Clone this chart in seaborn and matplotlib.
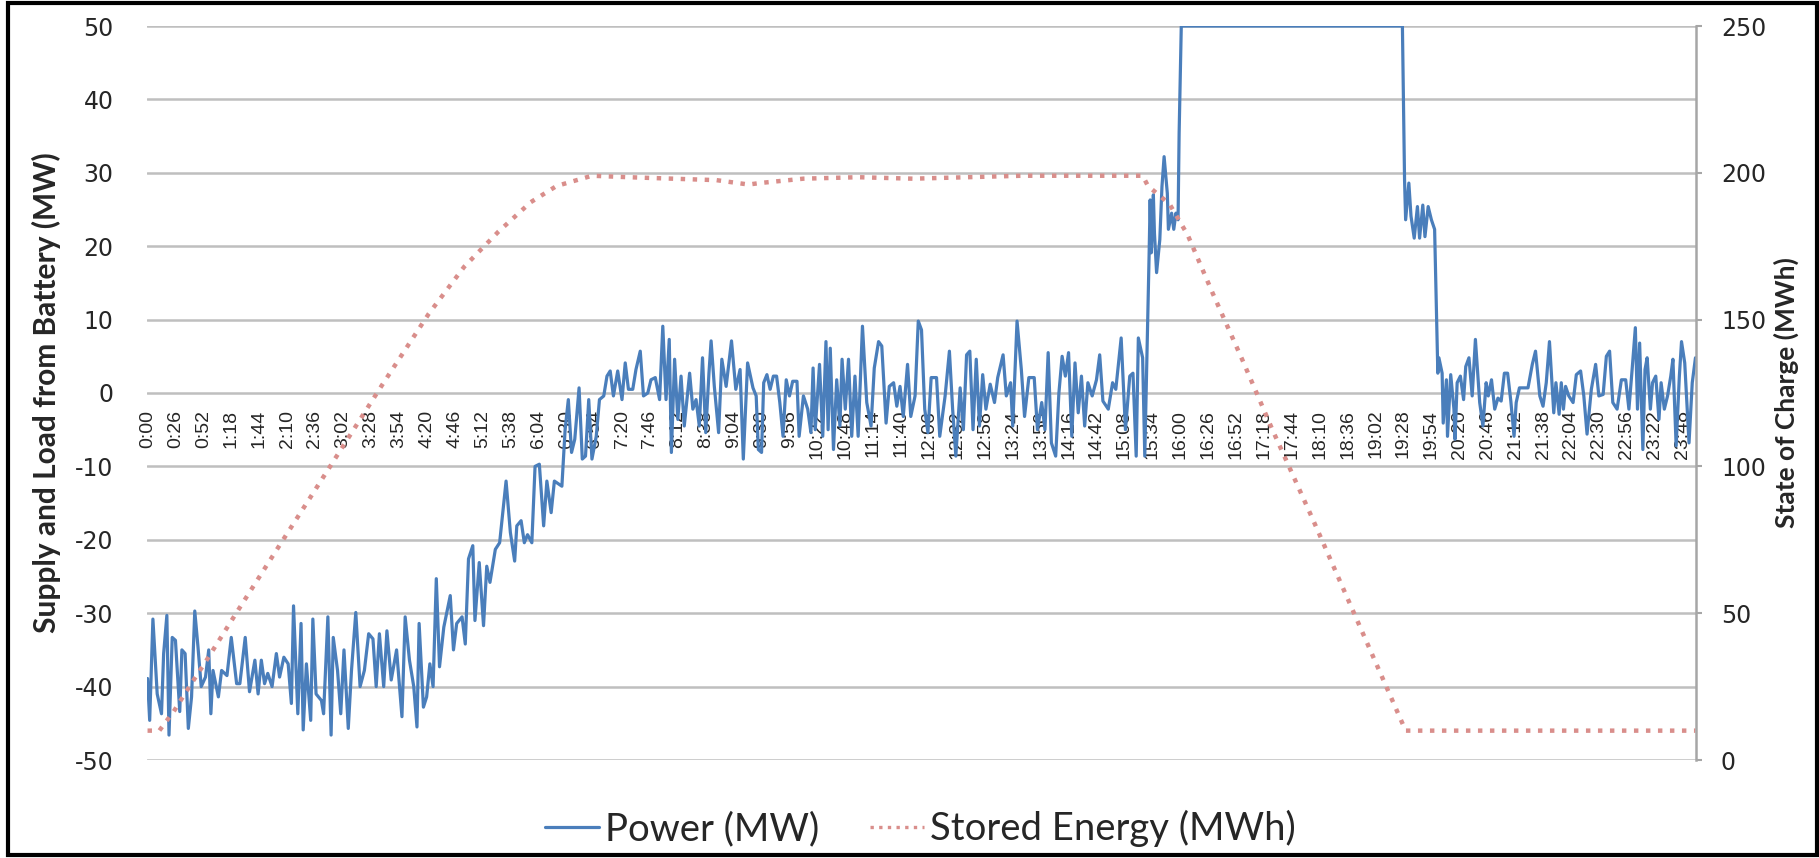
import numpy as np
import pandas as pd
import seaborn as sns
import matplotlib.pyplot as plt
from matplotlib.patches import Rectangle
from matplotlib.lines import Line2D

# category labels on the time axis (one label every 26 samples)
time_labels = ["0:00", "0:26", "0:52", "1:18", "1:44", "2:10", "2:36", "3:02", "3:28", "3:54",
               "4:20", "4:46", "5:12", "5:38", "6:04", "6:30", "6:54", "7:20", "7:46", "8:12",
               "8:38", "9:04", "9:30", "9:56", "10:22", "10:48", "11:14", "11:40", "12:06", "12:32",
               "12:58", "13:24", "13:50", "14:16", "14:42", "15:08", "15:34", "16:00", "16:26", "16:52",
               "17:18", "17:44", "18:10", "18:36", "19:02", "19:28", "19:54", "20:20", "20:46", "21:12",
               "21:38", "22:04", "22:30", "22:56", "23:22", "23:48"]

# battery power (sample index, MW)
power_sample = [
    0, 2, 5, 9, 13, 15, 18, 20, 23, 26,
    30, 32, 35, 38, 41, 44, 47, 50, 54, 57,
    59, 61, 66, 69, 74, 78, 83, 86, 91, 95,
    100, 103, 106, 109, 112, 116, 120, 123, 127, 131,
    134, 136, 140, 143, 145, 148, 152, 154, 157, 162,
    164, 168, 171, 173, 177, 180, 183, 187, 190, 194,
    198, 202, 206, 210, 213, 216, 220, 223, 227, 232,
    237, 240, 244, 248, 251, 253, 257, 260, 263, 266,
    269, 272, 276, 282, 285, 288, 293, 296, 299, 303,
    305, 309, 313, 316, 319, 324, 328, 334, 338, 342,
    344, 348, 351, 354, 358, 361, 365, 369, 372, 376,
    379, 386, 389, 392, 395, 398, 402, 405, 408, 411,
    414, 418, 421, 425, 428, 431, 434, 438, 442, 445,
    448, 452, 455, 459, 462, 466, 469, 473, 477, 480,
    483, 486, 488, 491, 494, 497, 500, 505, 508, 511,
    514, 517, 520, 523, 525, 528, 532, 535, 539, 544,
    548, 552, 555, 559, 564, 567, 569, 572, 574, 577,
    580, 583, 586, 589, 592, 595, 598, 601, 605, 607,
    611, 615, 618, 620, 622, 626, 629, 632, 634, 636,
    639, 642, 645, 647, 650, 653, 656, 659, 662, 666,
    670, 674, 677, 681, 684, 688, 691, 695, 698, 701,
    704, 708, 711, 715, 718, 721, 724, 727, 730, 735,
    738, 743, 747, 750, 753, 757, 760, 763, 766, 769,
    772, 775, 778, 781, 785, 789, 792, 797, 800, 804,
    806, 810, 814, 817, 821, 826, 829, 833, 836, 839,
    842, 846, 849, 852, 855, 858, 861, 864, 867, 870,
    873, 876, 880, 884, 887, 890, 895, 899, 902, 907,
    911, 915, 918, 921, 923, 927, 929, 933, 934, 935,
    937, 938, 940, 943, 945, 947, 950, 951, 954, 956,
    958, 960, 961, 963, 1169, 1171, 1172, 1175, 1177, 1180,
    1183, 1185, 1188, 1190, 1193, 1196, 1199, 1202, 1203, 1206,
    1207, 1210, 1211, 1214, 1217, 1218, 1220, 1223, 1226, 1228,
    1231, 1234, 1237, 1241, 1244, 1247, 1249, 1252, 1255, 1258,
    1261, 1264, 1267, 1270, 1273, 1275, 1278, 1282, 1286, 1290,
    1293, 1297, 1300, 1303, 1306, 1310, 1312, 1315, 1317, 1319,
    1321, 1324, 1328, 1331, 1335, 1338, 1341, 1345, 1349, 1352,
    1356, 1359, 1362, 1365, 1369, 1373, 1377, 1380, 1383, 1386,
    1388, 1390, 1393, 1395, 1397, 1400, 1402, 1405, 1408, 1410,
    1413, 1416, 1419, 1421, 1424, 1427, 1429, 1432, 1434, 1436,
    1439, 1442,
]
power_mw = [
    -38.9, -44.6, -30.8, -41, -43.7, -35.5, -30.3, -46.6, -33.3, -33.7,
    -43.4, -35, -35.5, -45.7, -41.4, -29.7, -34.6, -40, -38.7, -35,
    -43.7, -37.8, -41.4, -37.8, -38.5, -33.3, -39.6, -39.6, -33.3, -40.7,
    -36.4, -41, -36.4, -39.6, -38.2, -40, -35.5, -38.7, -36, -36.9,
    -42.3, -29, -43.7, -31.4, -45.9, -36.9, -44.6, -30.8, -41, -41.9,
    -43.7, -30.5, -46.6, -33.3, -37.8, -43.7, -35, -45.7, -37.8, -29.9,
    -40, -37.8, -32.8, -33.5, -40, -32.8, -40, -32.4, -39.1, -35,
    -44.1, -30.5, -36.4, -40, -45.5, -31.4, -42.8, -41.4, -36.9, -40,
    -25.3, -37.3, -31.9, -27.6, -35, -31.4, -30.5, -34.2, -22.6, -20.8,
    -31, -23.1, -31.7, -23.6, -25.8, -21.3, -20.4, -12, -19, -22.9,
    -18.1, -17.4, -20.4, -19.3, -20.4, -10, -9.7, -18.1, -12, -16.3,
    -12, -12.7, -5, -0.9, -8.1, -6.3, 0.7, -9, -8.6, -0.9,
    -9, -5.9, -0.9, -0.4, 2.3, 3, -0.4, 3, -0.9, 4.1,
    0.5, 0.5, 3.2, 5.7, -0.4, 0, 1.8, 2.1, -0.9, 9.1,
    -0.9, 7.3, -8.1, 4.6, -3.6, 2.3, -4.5, 2.7, -2.2, -0.9,
    -4.5, 4.8, -5.4, 2.7, 7.1, 0.9, -5.4, 4.6, 0.9, 7.1,
    0.5, 3.2, -9, 4.1, 0.7, -0.4, -7.7, -8.1, 1.4, 2.5,
    0.5, 2.3, 2.3, -1.3, -5.9, 1.8, -0.4, 1.6, 1.6, -5.9,
    -0.4, -2.2, -5.4, 3.4, -5, 3.9, -5.9, 7.0, -5, 6.1,
    -7.7, 1.8, -4.5, 4.6, -2.2, 4.6, -5.9, 2.3, -5.9, 9.1,
    -1.3, -4.5, 3.4, 7.0, 6.4, -4.1, 0.9, 1.4, -1.8, 0.9,
    -3.2, 3.9, -3.2, -0.4, 9.8, 8.6, -2.2, -5.4, 2.1, 2.1,
    -5.9, -0.4, 5.7, -2.2, -8.6, 0.7, -5, 5.2, 5.7, -5,
    4.6, -4.5, 2.5, -2.2, 1.2, -1.3, 2.1, 5.2, -0.4, 1.4,
    -4.5, 9.8, 3.2, -3.2, 2.1, 2.1, -5, -1.3, -5, 5.5,
    -6.8, -8.6, 0, 5, 2.3, 5.5, -5.9, 4.1, -2.7, 2.3,
    -4.5, 1.4, -0.4, 1.8, 5.2, -1.1, -2.2, 1.4, 0.5, 7.5,
    -5, 2.3, 2.7, -8.6, 7.5, 4.8, -8.6, 18.6, 26.3, 19.1,
    27, 21.8, 16.4, 20.9, 28.1, 32.2, 27.2, 22.3, 24.5, 22.3,
    24.5, 23.6, 35.4, 50, 50, 29, 23.6, 28.6, 24.1, 21.1,
    25.4, 21.1, 25.6, 21.3, 25.4, 23.6, 22.3, 2.7, 4.8, 2.7,
    -4.1, 1.8, -5.9, 2.5, -2.2, -6.3, 1.4, 2.3, -0.9, 3.6,
    4.8, -0.4, 7.3, -1.3, -4.5, 1.4, -0.4, 1.8, -2.2, -0.7,
    -1.1, 2.7, 2.7, -1.1, -5.9, -1.3, 0.7, 0.7, 0.7, 3.9,
    5.7, -0.4, -1.8, 1.4, 7.0, -2.7, 1.4, -2.9, 1.4, -2.2,
    0.9, -0.4, -1.3, 2.5, 3, -0.4, -5.6, 0.5, 3.9, -0.4,
    -0.2, 5, 5.7, -1.3, -2.2, 1.8, 1.8, -2.2, 3.2, 8.9,
    -2.2, 6.8, -7.7, 3.2, 4.8, -2.2, 1.4, 2.3, -3.6, 1.4,
    -2.2, -0.4, 2.3, 4.6, -7.2, 2.3, 7, 4.1, -1.3, -6.8,
    1.4, 4.8,
]

# stored energy (state of charge) (sample index, MWh)
soc_sample = [0, 11, 17, 24, 36, 55, 85, 114, 134, 150, 219, 262, 295, 327, 357, 381, 414,
              448, 489, 530, 560, 570, 611, 662, 713, 815, 927, 932, 952, 969, 992, 1020,
              1048, 1085, 1172, 1442]
soc_mwh = [10, 10, 13, 16.3, 23.3, 34, 51.4, 68, 79.4, 88.5, 128, 152, 168, 180, 190, 195.5, 199,
           198.5, 198, 197.5, 196, 196.5, 198, 198.5, 198, 199, 199, 195.5, 189.4, 178.8, 159.2, 136.2,
           112.4, 82.4, 10, 10]

assert len(power_sample) == len(power_mw)
assert len(soc_sample) == len(soc_mwh)

power = pd.DataFrame({'sample': power_sample, 'mw': power_mw})
soc = pd.DataFrame({'sample': soc_sample, 'mwh': soc_mwh})

BLUE = '#4A7EBB'
PINK = '#D98E8B'
GRID = '#BFBFBF'
AXIS = '#A6A6A6'

sns.set_style("white")
plt.rcParams['font.family'] = ['DejaVu Sans']
plt.rcParams['axes.unicode_minus'] = False

fig = plt.figure(figsize=(18.19, 8.58), dpi=100)
ax = fig.add_axes([147 / 1819, 98 / 858, 1549 / 1819, 734 / 858])
ax2 = ax.twinx()

sns.lineplot(data=power, x='sample', y='mw', ax=ax, color=BLUE, linewidth=2.3,
             errorbar=None, zorder=3)
sns.lineplot(data=soc, x='sample', y='mwh', ax=ax2, color=PINK, linewidth=3.2,
             linestyle=(0, (1, 1.7)), dash_capstyle='butt', errorbar=None)

# left axis, category labels sit on the zero line
ax.set_xlim(-0.5, 1442.5)
ax.set_ylim(-50, 50)
ax.set_yticks(range(-50, 51, 10))
ax.set_xticks(np.arange(len(time_labels)) * 26)
ax.set_xticklabels(time_labels)
ax.spines['bottom'].set_position(('data', 0))
ax.spines['bottom'].set_color('none')
for s in ['left', 'top', 'right']:
    ax.spines[s].set_visible(False)
ax.tick_params(axis='x', length=0, pad=12, labelrotation=90, labelsize=14,
               labelfontfamily='Liberation Sans')
ax.tick_params(axis='y', length=0, pad=24, labelsize=17)
ax.set_axisbelow(True)
ax.grid(axis='y', color=GRID, linewidth=1.8)
ax.grid(axis='x', visible=False)
ax.set_xlabel('')
ax.set_ylabel('Supply and Load from Battery (MW)', fontfamily='Lato', fontweight='bold',
              fontsize=21.5, va='center', ha='center')
ax.yaxis.set_label_coords(-0.0646, 0.5)

# right axis
ax2.set_ylim(0, 250)
ax2.set_yticks(range(0, 251, 50))
for s in ['left', 'top', 'bottom']:
    ax2.spines[s].set_visible(False)
ax2.spines['right'].set_color(AXIS)
ax2.spines['right'].set_linewidth(1.8)
ax2.tick_params(axis='y', length=4, width=1.5, color=AXIS, pad=14, labelsize=17)
ax2.set_ylabel('State of Charge (MWh)', fontfamily='Lato', fontweight='bold',
               fontsize=19, va='center', ha='center')
ax2.yaxis.set_label_coords((1786 - 147) / 1549, 0.5)

handles = [Line2D([], [], color=BLUE, linewidth=2.3),
           Line2D([], [], color=PINK, linewidth=2.4, linestyle=(0, (1, 1.6)), dash_capstyle='butt')]
fig.legend(handles, ['Power (MW)', 'Stored Energy (MWh)'], loc='center',
           bbox_to_anchor=(0.506, 0.034), ncol=2, frameon=False,
           prop={'family': 'Lato', 'size': 27.5}, handlelength=1.4,
           handletextpad=0.15, columnspacing=1.35)

# black frame around the whole picture
fig.add_artist(Rectangle((8 / 1819, 3 / 858), 1809 / 1819, 852 / 858,
                         transform=fig.transFigure, fill=False,
                         edgecolor='black', linewidth=3))

fig.savefig('out.png', dpi=100)
